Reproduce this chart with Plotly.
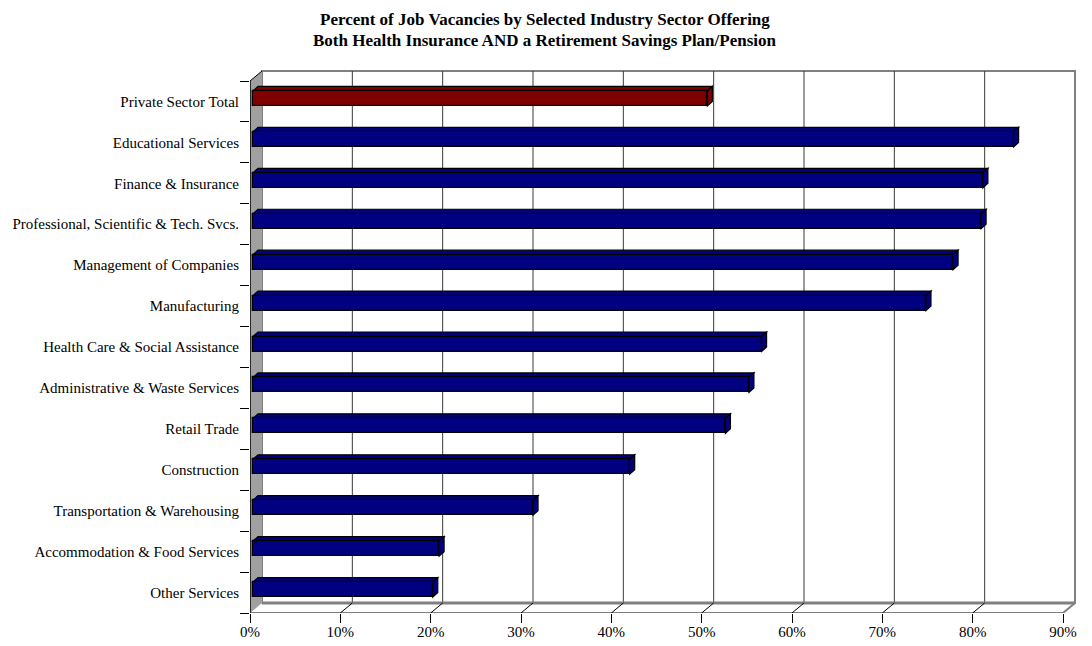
import plotly.graph_objects as go

# ---------------- data ----------------
categories = [
    "Private Sector Total",
    "Educational Services",
    "Finance & Insurance",
    "Professional, Scientific & Tech. Svcs.",
    "Management of Companies",
    "Manufacturing",
    "Health Care & Social Assistance",
    "Administrative & Waste Services",
    "Retail Trade",
    "Construction",
    "Transportation & Warehousing",
    "Accommodation & Food Services",
    "Other Services",
]
percent_offering = [50.3, 84.2, 80.8, 80.6, 77.5, 74.5, 56.3, 54.9, 52.3, 41.7, 31.0, 20.6, 19.9]
bar_colors = ["#800000"] + ["#000080"] * 12
x_tick_values = [0, 10, 20, 30, 40, 50, 60, 70, 80, 90]
x_tick_labels = ["0%", "10%", "20%", "30%", "40%", "50%", "60%", "70%", "80%", "90%"]
title_lines = [
    "Percent of Job Vacancies by Selected Industry Sector Offering",
    "Both Health Insurance AND a Retirement Savings Plan/Pension",
]

# ---------------- geometry (style) ----------------
W, H = 1092, 646
L = 250              # front 0% position (px)
FRONT_TOP = 81
FRONT_BOT = 613
PXU = 9.033          # px per percent
DX_PX, DY_PX = 12, 10  # 3D depth offset of back wall
PAD = 2
n = len(categories)
PXC = (FRONT_BOT - FRONT_TOP) / n   # px per category
xmax_front = x_tick_values[-1]
dx = DX_PX / PXU
dy = DY_PX / PXC
x_range = [0, xmax_front + dx + PAD / PXU]
right_px = L + (x_range[1]) * PXU
top_px = FRONT_TOP - DY_PX - PAD
y_bottom = n - 0.5
y_top = y_bottom - (FRONT_BOT - top_px) / PXC

# bar geometry
base0 = 3 / PXU
bar_w = 15 / PXC
bar_off = -(3 / PXC) - bar_w / 2
cap_dx = 5 / PXU
cap_dy = 4.5 / PXC

ypos = list(range(n))

fig = go.Figure()
fig.add_trace(go.Bar(
    y=ypos,
    x=percent_offering,
    base=[base0] * n,
    orientation="h",
    width=bar_w,
    offset=bar_off,
    marker=dict(color=bar_colors, line=dict(color="black", width=1.3)),
    hovertext=categories,
    showlegend=False,
))

shapes = []
wall_top = -0.5 - dy
wall_bot = y_bottom - dy
# back wall
shapes.append(dict(type="rect", xref="x", yref="y", x0=dx, x1=xmax_front + dx,
                   y0=wall_top, y1=wall_bot, fillcolor="white",
                   line=dict(color="#808080", width=2), layer="below"))
# gridlines on back wall
for v in x_tick_values[1:-1]:
    shapes.append(dict(type="line", xref="x", yref="y", x0=v + dx, x1=v + dx,
                       y0=wall_top, y1=wall_bot, line=dict(color="#3a3a3a", width=1),
                       layer="below"))
# floor
shapes.append(dict(type="path", xref="x", yref="y",
                   path=f"M 0,{y_bottom} L {xmax_front},{y_bottom} L {xmax_front+dx},{wall_bot} L {dx},{wall_bot} Z",
                   fillcolor="white", line=dict(width=0), layer="below"))
shapes.append(dict(type="line", xref="x", yref="y", x0=dx, x1=xmax_front + dx,
                   y0=wall_bot, y1=wall_bot, line=dict(color="#808080", width=3), layer="below"))
shapes.append(dict(type="line", xref="x", yref="y", x0=0, x1=xmax_front,
                   y0=y_bottom, y1=y_bottom, line=dict(color="black", width=1), layer="below"))
shapes.append(dict(type="line", xref="x", yref="y", x0=xmax_front, x1=xmax_front + dx,
                   y0=y_bottom, y1=wall_bot, line=dict(color="#808080", width=2), layer="below"))
for v in x_tick_values[1:-1]:
    shapes.append(dict(type="line", xref="x", yref="y", x0=v, x1=v + dx,
                       y0=y_bottom, y1=wall_bot, line=dict(color="black", width=1), layer="below"))
# left side wall
shapes.append(dict(type="path", xref="x", yref="y",
                   path=f"M 0,-0.5 L {dx},{wall_top} L {dx},{wall_bot} L 0,{y_bottom} Z",
                   fillcolor="#a0a0a0", line=dict(width=0), layer="below"))
shapes.append(dict(type="line", xref="x", yref="y", x0=0, x1=0, y0=-0.5, y1=y_bottom,
                   line=dict(color="black", width=1.5), layer="below"))
shapes.append(dict(type="line", xref="x", yref="y", x0=0, x1=dx, y0=-0.5, y1=wall_top,
                   line=dict(color="black", width=1), layer="below"))

# bar 3D caps (top face and end face), derived from the data values
for i, (v, c) in enumerate(zip(percent_offering, bar_colors)):
    top = i + bar_off
    bot = top + bar_w
    x0 = base0
    x1 = base0 + v
    shapes.append(dict(type="path", xref="x", yref="y",
                       path=f"M {x0},{top} L {x1},{top} L {x1+cap_dx},{top-cap_dy} L {x0+cap_dx},{top-cap_dy} Z",
                       fillcolor=c, line=dict(color="black", width=1.2), layer="below"))
    shapes.append(dict(type="path", xref="x", yref="y",
                       path=f"M {x1},{top} L {x1+cap_dx},{top-cap_dy} L {x1+cap_dx},{bot-cap_dy} L {x1},{bot} Z",
                       fillcolor=c, line=dict(color="black", width=1.2), layer="below"))

FAMILY = "Liberation Serif, Times New Roman, serif"
font = dict(family=FAMILY, size=15, color="black")

annotations = []
title_x = (545 - L) / (right_px - L)
for j, (t, ypx) in enumerate(zip(title_lines, [19, 41])):
    annotations.append(dict(text=f"<b>{t}</b>", xref="paper", yref="paper",
                            x=title_x, y=(FRONT_BOT - ypx) / (FRONT_BOT - top_px),
                            xanchor="center", yanchor="middle", showarrow=False,
                            font=dict(family=FAMILY, size=17, color="black")))

fig.update_layout(
    width=W, height=H,
    margin=dict(l=L, r=W - right_px, t=top_px, b=H - FRONT_BOT, pad=0, autoexpand=False),
    paper_bgcolor="white", plot_bgcolor="white",
    font=font,
    shapes=shapes,
    annotations=annotations,
    bargap=0,
    xaxis=dict(range=x_range, tickvals=x_tick_values, ticktext=x_tick_labels,
               ticks="outside", ticklen=5, tickcolor="rgba(0,0,0,0)",
               minor=dict(tickvals=x_tick_values, ticks="outside", ticklen=9,
                          tickcolor="black", tickwidth=1, showgrid=False),
               showgrid=False, zeroline=False, showline=False, fixedrange=True,
               automargin=False, tickfont=font),
    yaxis=dict(range=[y_bottom, y_top], tickvals=ypos, ticktext=categories,
               ticks="outside", ticklen=7, tickcolor="rgba(0,0,0,0)",
               minor=dict(tickvals=[k - 0.5 for k in range(n + 1)], ticks="outside",
                          ticklen=9, tickcolor="black", tickwidth=1, showgrid=False),
               showgrid=False, zeroline=False, showline=False, fixedrange=True,
               automargin=False, tickfont=font),
)

fig.write_html("out.html")
